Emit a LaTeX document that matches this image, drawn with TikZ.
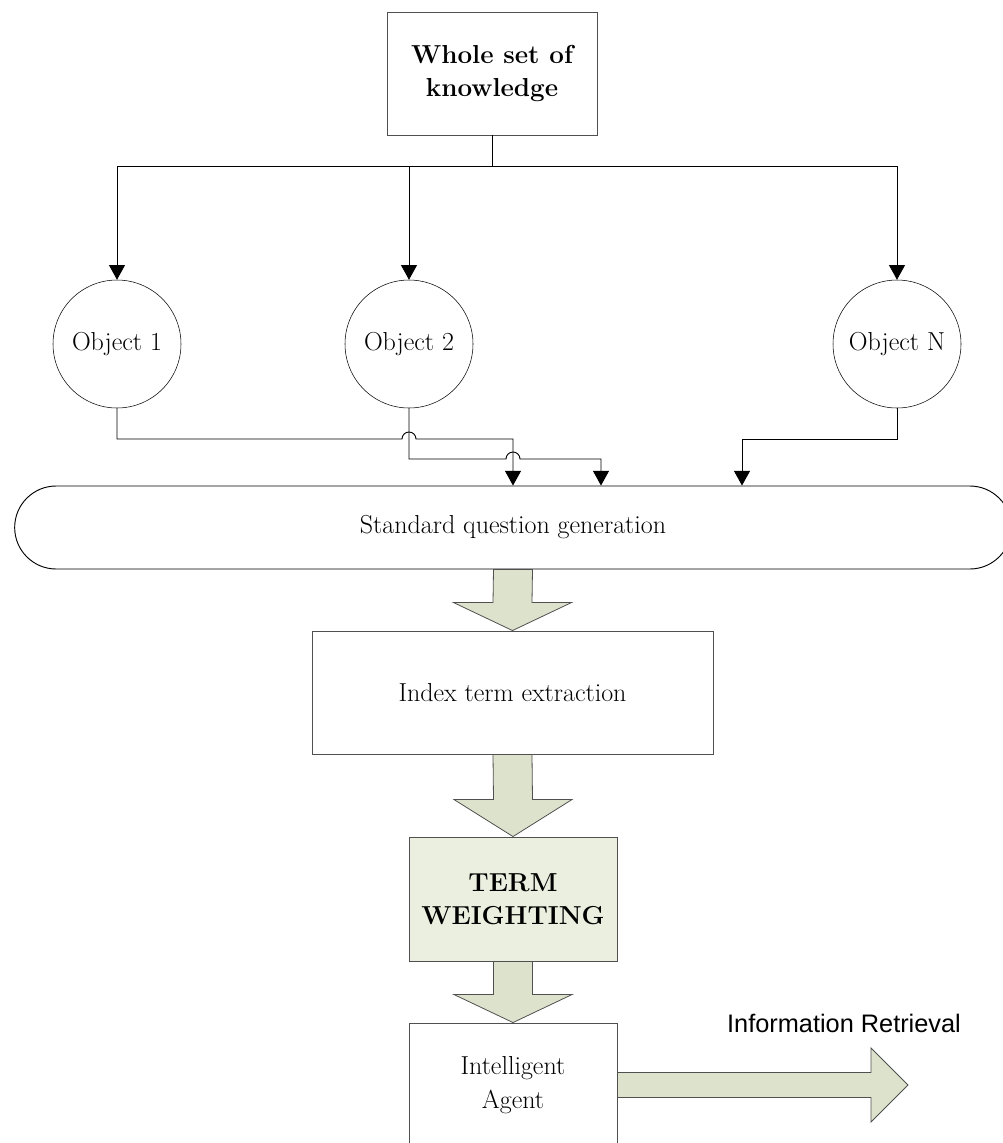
\documentclass[tikz,border=0pt]{standalone}
\usepackage{fontspec}
\usetikzlibrary{calc}
\usetikzlibrary{arrows.meta}
\usetikzlibrary{shapes.misc}
\newfontfamily\irfont{Liberation Sans}
\definecolor{arrowfill}{HTML}{DDE2CC}
\definecolor{boxfill}{HTML}{EBEFDF}
\definecolor{edgegray}{HTML}{505050}
\begin{document}
\begin{tikzpicture} [x=0.75pt,y=-0.75pt,
  box/.style={draw=edgegray,line width=0.7pt,rectangle,align=center,inner sep=2pt,font=\fontsize{19.5}{25}\selectfont},
  obj/.style={draw,circle,minimum size=96pt,inner sep=0pt,font=\fontsize{19.5}{25}\selectfont},
  conn/.style={draw,line width=0.7pt},
  tip/.style={-{Triangle[width=12pt,length=11pt]}},
  blockarrow/.style={draw=edgegray,fill=arrowfill,line width=0.6pt,line join=miter}]
\useasboundingbox (0,0) rectangle (1003,1143);

\node[box,minimum width=157.5pt,minimum height=92.25pt,font=\fontsize{19.5}{25}\selectfont\bfseries] (whole) at (492,73.5) {Whole set of\\knowledge};

\node[obj] (o1) at (117,344) {Object 1};
\node[obj] (o2) at (409,344) {Object 2};
\node[obj] (on) at (897,344) {Object N};

\node[box,draw=black,rounded rectangle,minimum width=751.5pt,minimum height=62.25pt] (sqg) at (513,527.5) {Standard question generation};
\node[box,minimum width=300.75pt,minimum height=92.25pt] (idx) at (512.5,692.5) {Index term extraction};
\node[box,fill=boxfill,minimum width=156pt,minimum height=93pt,font=\fontsize{19.5}{25}\selectfont\bfseries] (tw) at (513,899) {TERM\\WEIGHTING};
\node[box,minimum width=156pt,minimum height=93pt] (ia) at (513,1085) {Intelligent\\Agent};

% knowledge to objects
\draw[conn] (whole.south) -- ++(0,31) coordinate (hub);
\foreach \o in {o1,o2,on} \draw[conn,tip] (hub) -| (\o.north);

% objects to question generation
\coordinate (d1) at (513,439);
\coordinate (d2) at (601,459);
\coordinate (dn) at (742,439);
\draw[conn,tip] (o1.south) |- (402,439) arc[start angle=180,end angle=0,radius=5.25pt] -- (d1) -- (d1 |- sqg.north);
\draw[conn,tip] (o2.south) |- (506,459) arc[start angle=180,end angle=0,radius=5.25pt] -- (d2) -- (d2 |- sqg.north);
\draw[conn,tip] (on.south) |- (dn) -- (dn |- sqg.north);

% block arrows down the column
\foreach \a/\b/\h in {sqg/idx/28, idx/tw/37, tw/ia/28} \draw[blockarrow] ($(\a.south)+(-19.5,0)$) -- ($(\b.north)+(-19.5,-\h)$) -- ($(\b.north)+(-59,-\h)$) -- (\b.north) -- ($(\b.north)+(59,-\h)$) -- ($(\b.north)+(19.5,-\h)$) -- ($(\a.south)+(19.5,0)$) -- cycle;

% information retrieval
\coordinate (ir) at (908,1085);
\draw[blockarrow] ($(ia.east)+(0,-12.5)$) -- ($(ir)+(-37,-12.5)$) -- ($(ir)+(-37,-37)$) -- (ir) -- ($(ir)+(-37,37)$) -- ($(ir)+(-37,12.5)$) -- ($(ia.east)+(0,12.5)$) -- cycle;
\node[anchor=base,font=\irfont\fontsize{19}{23}\selectfont] (irlabel) at (844,1032) {Information Retrieval};
\end{tikzpicture}
\end{document}
